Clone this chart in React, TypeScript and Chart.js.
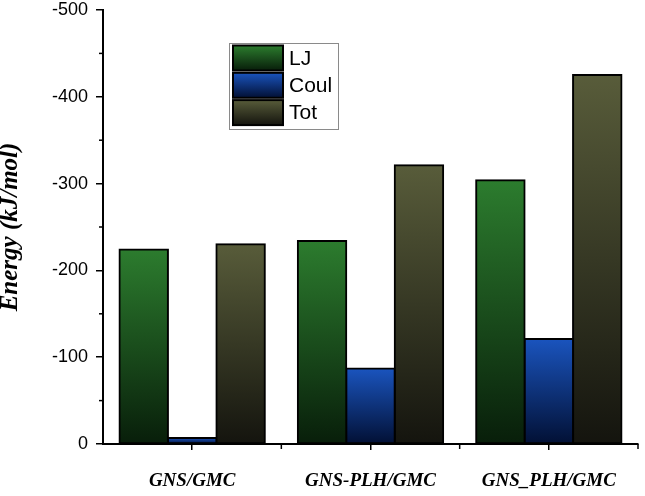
import React, { useEffect, useRef } from "react";
import { Chart, registerables } from "chart.js";

Chart.register(...registerables);

const categories = ["GNS/GMC", "GNS-PLH/GMC", "GNS_PLH/GMC"];
const ljValues = [-224, -234, -304];
const coulValues = [-7, -87, -121];
const totValues = [-230, -321, -425];
const seriesLabels = ["LJ", "Coul", "Tot"];
const yMinorTicks = [-50, -150, -250, -350, -450];

const palette = [
  { top: "rgb(44,124,46)", bottom: "rgb(8,30,10)" },
  { top: "rgb(26,84,190)", bottom: "rgb(2,16,52)" },
  { top: "rgb(88,92,58)", bottom: "rgb(20,20,14)" },
];

const barGradient = (idx: number) => (c: any) => {
  const chart = c.chart;
  const { ctx, chartArea, scales } = chart;
  if (!chartArea || !scales.y || c.type !== "data") return palette[idx].top;
  const v = c.raw as number;
  const y0 = scales.y.getPixelForValue(0);
  const y1 = scales.y.getPixelForValue(v);
  if (!isFinite(y0) || !isFinite(y1) || y0 === y1) return palette[idx].top;
  const g = ctx.createLinearGradient(0, y1, 0, y0);
  g.addColorStop(0, palette[idx].top);
  g.addColorStop(1, palette[idx].bottom);
  return g;
};

const extrasPlugin = {
  id: "extras",
  afterDraw(chart: any) {
    const { ctx, chartArea, scales } = chart;
    ctx.save();
    // minor ticks
    ctx.strokeStyle = "#000";
    ctx.lineWidth = 1.5;
    yMinorTicks.forEach((v) => {
      const y = scales.y.getPixelForValue(v);
      ctx.beginPath();
      ctx.moveTo(chartArea.left - 4, y);
      ctx.lineTo(chartArea.left, y);
      ctx.stroke();
    });
    for (let i = 0; i < categories.length; i++) {
      const x = scales.x.getPixelForValue(i + 0.5);
      ctx.beginPath();
      ctx.moveTo(x, chartArea.bottom);
      ctx.lineTo(x, chartArea.bottom + 5);
      ctx.stroke();
    }
    // legend
    const lx = chartArea.left + 126;
    const ly = chartArea.top + 33;
    const lw = 109;
    const lh = 86;
    ctx.fillStyle = "#fff";
    ctx.fillRect(lx, ly, lw, lh);
    ctx.strokeStyle = "#8a8a8a";
    ctx.lineWidth = 1;
    ctx.strokeRect(lx + 0.5, ly + 0.5, lw, lh);
    const sw = 50;
    const sh = 25;
    const gap = 27.3;
    seriesLabels.forEach((label, i) => {
      const sx = lx + 4;
      const sy = ly + 2.5 + i * gap;
      const g = ctx.createLinearGradient(0, sy, 0, sy + sh);
      g.addColorStop(0, palette[i].top);
      g.addColorStop(1, palette[i].bottom);
      ctx.fillStyle = g;
      ctx.fillRect(sx, sy, sw, sh);
      ctx.strokeStyle = "#000";
      ctx.lineWidth = 2;
      ctx.strokeRect(sx, sy, sw, sh);
      ctx.fillStyle = "#000";
      ctx.font = "21px 'Liberation Sans', Arial, sans-serif";
      ctx.textBaseline = "middle";
      ctx.textAlign = "left";
      ctx.fillText(label, sx + sw + 6, sy + sh / 2 + 1);
    });
    ctx.restore();
  },
};

export default function App() {
  const ref = useRef<HTMLCanvasElement | null>(null);

  useEffect(() => {
    if (!ref.current) return;
    const datasets = [ljValues, coulValues, totValues].map((data, i) => ({
      label: seriesLabels[i],
      data,
      backgroundColor: barGradient(i),
      borderColor: "#000",
      borderWidth: 2,
      borderSkipped: false as const,
      inflateAmount: 1,
      categoryPercentage: 0.815,
      barPercentage: 1.0,
    }));
    const chart = new Chart(ref.current, {
      type: "bar",
      data: { labels: categories, datasets },
      plugins: [extrasPlugin],
      options: {
        animation: false,
        responsive: true,
        maintainAspectRatio: false,
        devicePixelRatio: 1,
        layout: { padding: { top: 10, right: 7, left: 0, bottom: 0 } },
        plugins: { legend: { display: false }, tooltip: { enabled: false } },
        scales: {
          x: {
            grid: {
              offset: false,
              drawOnChartArea: false,
              drawTicks: true,
              tickLength: 6,
              color: "#000",
              lineWidth: 1.5,
            },
            border: { display: true, color: "#000", width: 2 },
            ticks: {
              color: "#000",
              padding: 20,
              maxRotation: 0,
              font: {
                family: "'Liberation Serif', 'Times New Roman', serif",
                size: 19,
                weight: "bold",
                style: "italic",
              },
            },
            afterFit: (s: any) => {
              s.height = 52;
              s.paddingLeft = 0;
              s.paddingRight = 0;
            },
          },
          y: {
            min: -500,
            max: 0,
            reverse: true,
            grid: {
              drawOnChartArea: false,
              drawTicks: true,
              tickLength: 7,
              color: "#000",
              lineWidth: 1.5,
            },
            border: { display: true, color: "#000", width: 2 },
            ticks: {
              stepSize: 100,
              color: "#000",
              padding: 8,
              font: { family: "'Liberation Sans', Arial, sans-serif", size: 18 },
            },
            title: {
              display: true,
              text: "Energy (kJ/mol)",
              color: "#000",
              padding: { top: 1, bottom: 0 },
              font: {
                family: "'Liberation Serif', 'Times New Roman', serif",
                size: 25,
                weight: "bold",
                style: "italic",
                lineHeight: 0.8,
              },
            },
            afterFit: (s: any) => {
              s.width = 103;
              s.paddingTop = 0;
              s.paddingBottom = 0;
            },
          },
        },
      },
    });
    return () => chart.destroy();
  }, []);

  return (
    <div
      style={{
        position: "fixed",
        left: 0,
        top: 0,
        width: 645,
        height: 496,
        background: "#fff",
      }}
    >
      <canvas ref={ref} />
    </div>
  );
}
